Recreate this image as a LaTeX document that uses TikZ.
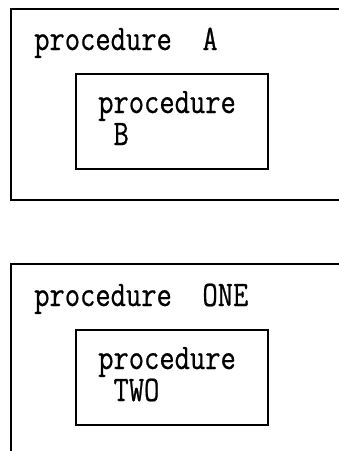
\documentclass[tikz,border=0pt]{standalone}
\usepackage{fontspec}
\newfontfamily\listingfont[FakeStretch=0.825,FakeBold=0.6]{Latin Modern Mono}
\begin{document}
\begin{tikzpicture}[x=1pt,y=-1pt,
  frame/.style={line width=2.6pt},
  procbox/.style={draw,line width=2.2pt,minimum width=192pt,minimum height=95pt,
    inner sep=0pt,anchor=north west},
  code/.style={inner sep=0pt,anchor=base west,align=left,
    font=\listingfont\fontsize{36}{32}\selectfont}]
\useasboundingbox (0,0) rectangle (339,451);

% outer procedure A (open on the right)
\draw[frame] (339,9) -| (11,200) -- (339,200);
\node[code] (procA) at (34,50) {procedure~~A};
\node[procbox] (boxB) at (75,73) {};
% two-line label: the base anchor sits on the last line
\node[code] (procB) at (98,145) {procedure\\~B};

% outer procedure ONE (open on the right and below)
\draw[frame] (339,264) -| (11,451);
\node[code] (procOne) at (34,306) {procedure~~ONE};
\node[procbox] (boxTwo) at (75,329) {};
\node[code] (procTwo) at (98,401) {procedure\\~TWO};
\end{tikzpicture}
\end{document}
